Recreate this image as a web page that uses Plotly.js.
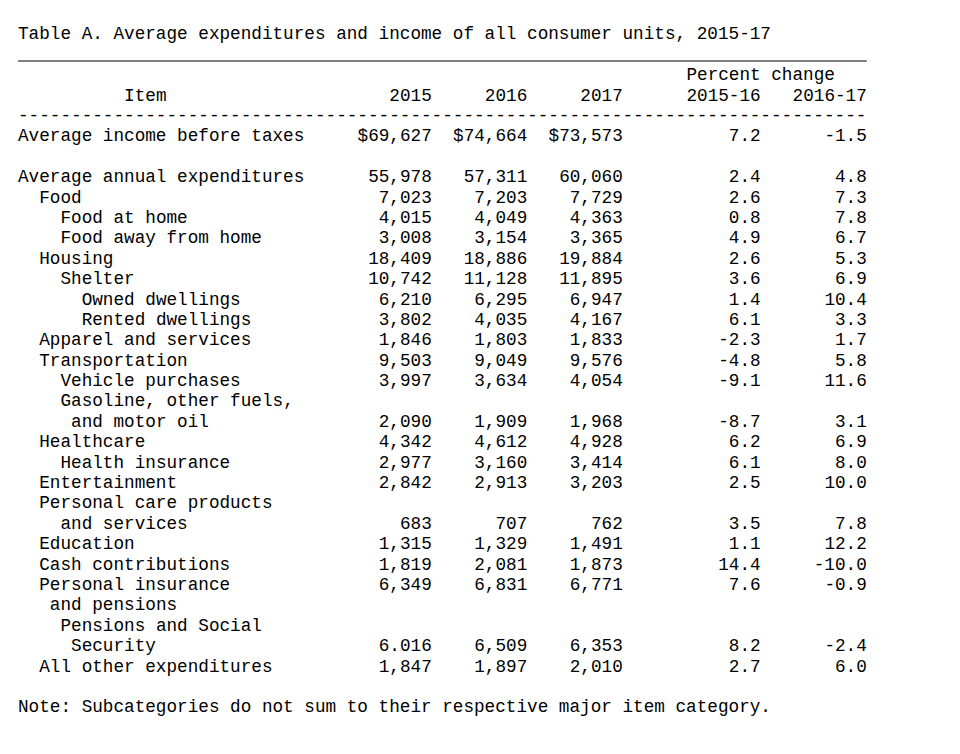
<!DOCTYPE html>
<html>
<head>
<meta charset="utf-8">
<script src="https://cdn.plot.ly/plotly-3.0.1.min.js"></script>
<style>
  html, body { margin: 0; padding: 0; background: #ffffff; }
  #chart { width: 960px; height: 754px; }
</style>
</head>
<body>
<div id="chart"></div>
<script>
// ---------------- data ----------------
const titleText = "Table A. Average expenditures and income of all consumer units, 2015-17";
const noteText = "Note: Subcategories do not sum to their respective major item category.";

const headerYears = ["2015", "2016", "2017"];
const headerChangeGroup = "Percent change";
const headerChanges = ["2015-16", "2016-17"];
const headerItem = "Item";

const items = [
  "Average income before taxes",
  "",
  "Average annual expenditures",
  "Food",
  "Food at home",
  "Food away from home",
  "Housing",
  "Shelter",
  "Owned dwellings",
  "Rented dwellings",
  "Apparel and services",
  "Transportation",
  "Vehicle purchases",
  "Gasoline, other fuels,",
  "and motor oil",
  "Healthcare",
  "Health insurance",
  "Entertainment",
  "Personal care products",
  "and services",
  "Education",
  "Cash contributions",
  "Personal insurance",
  "and pensions",
  "Pensions and Social",
  "Security",
  "All other expenditures"
];
const indents = [0, 0, 0, 2, 4, 4, 2, 4, 6, 6, 2, 2, 4, 4, 5, 2, 4, 2, 2, 4, 2, 2, 2, 3, 4, 5, 2];

const v2015 = ["$69,627", "", "55,978", "7,023", "4,015", "3,008", "18,409", "10,742", "6,210", "3,802", "1,846", "9,503", "3,997", "", "2,090", "4,342", "2,977", "2,842", "", "683", "1,315", "1,819", "6,349", "", "", "6.016", "1,847"];
const v2016 = ["$74,664", "", "57,311", "7,203", "4,049", "3,154", "18,886", "11,128", "6,295", "4,035", "1,803", "9,049", "3,634", "", "1,909", "4,612", "3,160", "2,913", "", "707", "1,329", "2,081", "6,831", "", "", "6,509", "1,897"];
const v2017 = ["$73,573", "", "60,060", "7,729", "4,363", "3,365", "19,884", "11,895", "6,947", "4,167", "1,833", "9,576", "4,054", "", "1,968", "4,928", "3,414", "3,203", "", "762", "1,491", "1,873", "6,771", "", "", "6,353", "2,010"];
const pct1516 = ["7.2", "", "2.4", "2.6", "0.8", "4.9", "2.6", "3.6", "1.4", "6.1", "-2.3", "-4.8", "-9.1", "", "-8.7", "6.2", "6.1", "2.5", "", "3.5", "1.1", "14.4", "7.6", "", "", "8.2", "2.7"];
const pct1617 = ["-1.5", "", "4.8", "7.3", "7.8", "6.7", "5.3", "6.9", "10.4", "3.3", "1.7", "5.8", "11.6", "", "3.1", "6.9", "8.0", "10.0", "", "7.8", "12.2", "-10.0", "-0.9", "", "", "-2.4", "6.0"];

// ---------------- layout constants (column / row grid) ----------------
const W = 960, H = 754;
const charW = 10.61;       // px per monospace column
const x0px = 18;           // px of column 0
const rowH = 20.39;        // px per text row
const row0px = 137;        // px of row 0 (first data row)
const fontSize = 17.68;
const FONT = "Liberation Mono, Courier New, Courier, monospace";
const ink = "#000000";

const colRight = [39, 48, 57, 70, 80];   // right edge columns for data columns
const itemHeaderCol = 10;
const pctGroupCol = 63;
const totalCols = 80;

const rowTitle = -5, rowGroup = -3, rowHeader = -2, rowDash = -1, rowNote = 28;
const ruleRow = (61 - row0px) / rowH;

const rows = items.map((_, i) => i);

function leftText(xs, ys, texts) {
  return { type: "scatter", mode: "text", x: xs, y: ys, text: texts,
           textposition: "middle right", cliponaxis: false, hoverinfo: "skip",
           textfont: { family: FONT, size: fontSize, color: ink } };
}
function rightText(xs, ys, texts) {
  return { type: "scatter", mode: "text", x: xs, y: ys, text: texts,
           textposition: "middle left", cliponaxis: false, hoverinfo: "skip",
           textfont: { family: FONT, size: fontSize, color: ink } };
}

const dataCols = [v2015, v2016, v2017, pct1516, pct1617];
const traces = [];

// title, note, headers
traces.push(leftText([0], [rowTitle], [titleText]));
traces.push(leftText([0], [rowNote], [noteText]));
traces.push(leftText([itemHeaderCol], [rowHeader], [headerItem]));
traces.push(leftText([pctGroupCol], [rowGroup], [headerChangeGroup]));
const headerTexts = headerYears.concat(headerChanges);
traces.push(rightText(colRight, colRight.map(() => rowHeader), headerTexts));
traces.push(leftText([0], [rowDash], ["-".repeat(totalCols)]));

// item labels
traces.push(leftText(indents, rows, items));

// data columns
dataCols.forEach((col, ci) => {
  traces.push(rightText(rows.map(() => colRight[ci]), rows, col));
});

const layout = {
  width: W, height: H,
  margin: { l: 0, r: 0, t: 0, b: 0, pad: 0 },
  paper_bgcolor: "#ffffff", plot_bgcolor: "#ffffff",
  showlegend: false,
  hovermode: false,
  xaxis: { range: [-x0px / charW, (W - x0px) / charW], visible: false, fixedrange: true },
  yaxis: { range: [(H - row0px) / rowH, -row0px / rowH], visible: false, fixedrange: true },
  shapes: [
    { type: "line", xref: "x", yref: "y", x0: 0, x1: totalCols, y0: ruleRow, y1: ruleRow,
      line: { color: "#555555", width: 1.5 } }
  ]
};

Plotly.newPlot("chart", traces, layout, { staticPlot: true, displayModeBar: false });
</script>
</body>
</html>
